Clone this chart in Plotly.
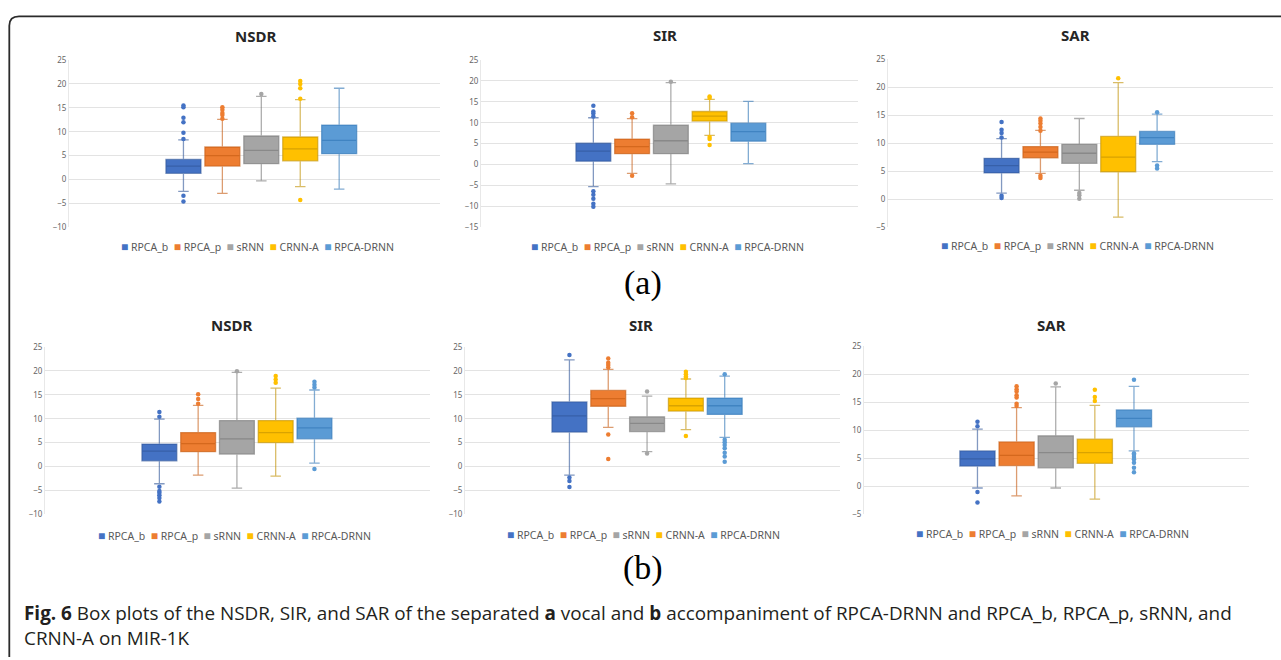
import plotly.graph_objects as go

W, H = 1281, 660

series = ["RPCA_b", "RPCA_p", "sRNN", "CRNN-A", "RPCA-DRNN"]
fills = ["#4472C4", "#ED7D31", "#A5A5A5", "#FFC000", "#5B9BD5"]
edges = ["rgba(47,85,151,0.6)", "rgba(197,90,17,0.6)", "rgba(118,118,118,0.6)",
         "rgba(191,144,0,0.6)", "rgba(46,117,182,0.6)"]

# ---- (a) vocal ----
a_nsdr_q1 = [1.3, 2.8, 3.3, 3.9, 5.4]
a_nsdr_med = [2.8, 5.0, 6.1, 6.4, 8.2]
a_nsdr_q3 = [4.2, 6.8, 9.1, 8.9, 11.4]
a_nsdr_lo = [-2.5, -2.9, -0.3, -1.5, -2.0]
a_nsdr_hi = [8.3, 12.6, 17.4, 16.7, 19.1]
a_nsdr_out = [[15.5, 15.1, 12.9, 12.0, 9.8, 8.5, -3.4, -4.6],
              [15.1, 14.6, 13.9, 13.5, 12.7], [17.9],
              [20.6, 20.0, 19.1, 16.9, -4.3], []]

a_sir_q1 = [0.8, 2.6, 2.6, 10.4, 5.6]
a_sir_med = [3.2, 4.3, 5.7, 11.6, 7.9]
a_sir_q3 = [5.1, 6.1, 9.4, 12.7, 9.9]
a_sir_lo = [-5.3, -2.1, -4.6, 7.0, 0.2]
a_sir_hi = [11.2, 11.0, 19.6, 15.6, 15.1]
a_sir_out = [[14.1, 12.7, 12.2, 11.5, -6.4, -7.2, -8.2, -9.4, -10.1],
             [12.3, 11.3, -2.7], [19.8], [16.3, 15.9, 6.6, 6.1, 4.7], []]

a_sar_q1 = [4.7, 7.4, 6.4, 4.9, 9.8]
a_sar_med = [6.0, 8.4, 8.2, 7.5, 11.0]
a_sar_q3 = [7.3, 9.4, 9.8, 11.2, 12.1]
a_sar_lo = [1.1, 4.6, 1.6, -3.2, 6.7]
a_sar_hi = [10.8, 12.3, 14.4, 20.8, 15.2]
a_sar_out = [[13.8, 12.4, 11.8, 11.0, 0.6, 0.2],
             [14.4, 14.0, 13.5, 12.9, 12.2, 4.2, 3.8], [1.1, 0.7, 0.1],
             [21.6], [15.5, 6.0, 5.5]]

# ---- (b) accompaniment ----
b_nsdr_q1 = [1.2, 3.1, 2.6, 5.0, 5.8]
b_nsdr_med = [3.2, 4.8, 5.8, 7.1, 8.1]
b_nsdr_q3 = [4.7, 7.1, 9.6, 9.6, 10.1]
b_nsdr_lo = [-3.6, -1.8, -4.5, -2.0, 0.7]
b_nsdr_hi = [9.9, 12.8, 19.7, 16.4, 16.0]
b_nsdr_out = [[11.4, 10.4, -4.2, -5.1, -5.5, -6.0, -6.6, -7.3],
              [15.1, 14.1, 13.1], [19.9], [18.9, 18.2, 17.5],
              [17.7, 17.1, 16.5, -0.5]]

b_sir_q1 = [7.2, 12.6, 7.3, 11.6, 10.9]
b_sir_med = [10.6, 14.2, 9.0, 12.7, 12.7]
b_sir_q3 = [13.5, 15.9, 10.4, 14.3, 14.3]
b_sir_lo = [-1.8, 8.2, 3.1, 7.7, 6.1]
b_sir_hi = [22.3, 20.3, 14.7, 18.3, 18.9]
b_sir_out = [[23.3, -2.3, -3.0, -4.3], [22.6, 21.7, 21.2, 20.7, 6.7, 1.6],
             [15.7, 2.7], [19.8, 19.3, 18.8, 18.5, 6.4],
             [19.3, 5.6, 5.1, 4.5, 3.8, 2.9, 2.1, 1.0]]

b_sar_q1 = [3.6, 3.7, 3.3, 4.1, 10.6]
b_sar_med = [4.9, 5.5, 6.0, 6.0, 12.1]
b_sar_q3 = [6.3, 7.9, 9.0, 8.4, 13.6]
b_sar_lo = [-0.3, -1.7, -0.3, -2.3, 6.3]
b_sar_hi = [10.2, 14.0, 17.7, 14.4, 17.8]
b_sar_out = [[11.5, 10.7, -1.0, -2.9],
             [17.8, 17.3, 16.9, 16.2, 15.8, 14.7, 14.3], [18.3],
             [17.2, 15.9, 15.2], [19.0, 5.9, 5.6, 5.2, 4.8, 4.2, 3.3, 2.5]]

titles = ["NSDR", "SIR", "SAR", "NSDR", "SIR", "SAR"]
y_ranges = [(-10, 25), (-15, 25), (-5, 25), (-10, 25), (-10, 25), (-5, 25)]

stats = [
    (a_nsdr_q1, a_nsdr_med, a_nsdr_q3, a_nsdr_lo, a_nsdr_hi, a_nsdr_out),
    (a_sir_q1, a_sir_med, a_sir_q3, a_sir_lo, a_sir_hi, a_sir_out),
    (a_sar_q1, a_sar_med, a_sar_q3, a_sar_lo, a_sar_hi, a_sar_out),
    (b_nsdr_q1, b_nsdr_med, b_nsdr_q3, b_nsdr_lo, b_nsdr_hi, b_nsdr_out),
    (b_sir_q1, b_sir_med, b_sir_q3, b_sir_lo, b_sir_hi, b_sir_out),
    (b_sar_q1, b_sar_med, b_sar_q3, b_sar_lo, b_sar_hi, b_sar_out),
]

# layout geometry (pixels): plot rect, x range, title & legend centres
rects = [(69, 440, 55, 225), (481, 858, 55, 225), (888, 1273, 54, 225),
         (45, 430, 346.7, 517), (465, 840, 346.7, 517), (864, 1249, 345.7, 517)]
x_ranges = [(-2.94, 6.59), (-2.90, 6.83), (-2.92, 6.98),
            (-2.95, 6.98), (-2.69, 6.97), (-2.90, 6.94)]
title_pos = [(255, 31), (665, 30), (1075, 30), (231, 324), (641, 324), (1051, 324)]
legend_pos = [(257, 245), (667, 245), (1077, 244), (234, 538), (643.5, 537), (1052.5, 536)]


def px(x):
    return x / W


def py(y):
    return 1 - y / H


fig = go.Figure()
layout = {}
annotations = []

for p in range(6):
    q1, med, q3, lo, hi, out = stats[p]
    sfx = "" if p == 0 else str(p + 1)
    xa, ya = "x" + sfx, "y" + sfx
    for i, name in enumerate(series):
        fig.add_trace(go.Box(
            x=[name], q1=[q1[i]], median=[med[i]], q3=[q3[i]],
            lowerfence=[lo[i]], upperfence=[hi[i]],
            boxpoints=False, width=0.9, whiskerwidth=0.3,
            fillcolor=fills[i], line=dict(color=edges[i], width=1.3),
            xaxis=xa, yaxis=ya, showlegend=False, hoverinfo="skip"))
        if out[i]:
            fig.add_trace(go.Scatter(
                x=[name] * len(out[i]), y=out[i], mode="markers",
                marker=dict(color=fills[i], size=4.5),
                xaxis=xa, yaxis=ya, showlegend=False, hoverinfo="skip"))
    x0, x1, yt, yb = rects[p]
    layout["xaxis" + sfx] = dict(
        domain=[px(x0), px(x1)], anchor=ya, type="category",
        categoryorder="array", categoryarray=series,
        range=list(x_ranges[p]), showticklabels=False, showgrid=False,
        zeroline=False, showline=False, ticks="", fixedrange=True)
    layout["yaxis" + sfx] = dict(
        domain=[py(yb), py(yt)], anchor=xa, range=list(y_ranges[p]),
        dtick=5, tick0=0, showgrid=True, gridcolor="#E3E3E3", gridwidth=1,
        zeroline=False, showline=True, linecolor="#E8E8E8", linewidth=1,
        ticks="", tickfont=dict(family="Noto Sans", size=8, color="#666666"),
        fixedrange=True)
    tx, ty = title_pos[p]
    annotations.append(dict(
        x=px(tx), y=py(ty), xref="paper", yref="paper", text="<b>%s</b>" % titles[p],
        showarrow=False, xanchor="center", yanchor="middle",
        font=dict(family="Noto Sans", size=15, color="#262626")))
    leg = "\u00a0\u00a0".join(
        "<span style='color:%s;font-size:12px'>\u25a0</span>\u00a0%s" % (c, n)
        for c, n in zip(fills, series))
    lx, ly = legend_pos[p]
    annotations.append(dict(
        x=px(lx), y=py(ly), xref="paper", yref="paper", text=leg,
        showarrow=False, xanchor="center", yanchor="middle",
        font=dict(family="Noto Sans", size=10.5, color="#595959")))

annotations.append(dict(x=px(643), y=py(282), xref="paper", yref="paper", text="(a)",
                        showarrow=False, xanchor="center", yanchor="middle",
                        font=dict(family="Liberation Serif", size=34, color="#000000")))
annotations.append(dict(x=px(643), y=py(572), xref="paper", yref="paper", text="(b)",
                        showarrow=False, xanchor="center", yanchor="middle",
                        font=dict(family="Liberation Serif", size=34, color="#000000")))

cap1 = ("<b>Fig. 6</b> Box plots of the NSDR, SIR, and SAR of the separated <b>a</b> vocal and "
        "<b>b</b> accompaniment of RPCA-DRNN and RPCA_b, RPCA_p, sRNN, and")
cap2 = "CRNN-A on MIR-1K"
annotations.append(dict(x=px(22), y=py(617), xref="paper", yref="paper", text=cap1,
                        showarrow=False, xanchor="left", yanchor="middle",
                        font=dict(family="Open Sans", size=18.9, color="#231F20")))
annotations.append(dict(x=px(22), y=py(643), xref="paper", yref="paper", text=cap2,
                        showarrow=False, xanchor="left", yanchor="middle",
                        font=dict(family="Open Sans", size=18.9, color="#231F20")))

border = "M %f,%f L %f,%f Q %f,%f %f,%f L %f,%f" % (
    px(9.3), py(662), px(9.3), py(20), px(9.3), py(10.5), px(19), py(10.5), px(1285), py(10.5))

fig.update_layout(
    width=W, height=H, margin=dict(l=0, r=0, t=0, b=0),
    paper_bgcolor="white", plot_bgcolor="white", showlegend=False,
    annotations=annotations,
    shapes=[dict(type="path", path=border, xref="paper", yref="paper",
                 line=dict(color="#2B2B2B", width=1.8))],
    **layout)

fig.write_html("out.html", config={"displayModeBar": False})
